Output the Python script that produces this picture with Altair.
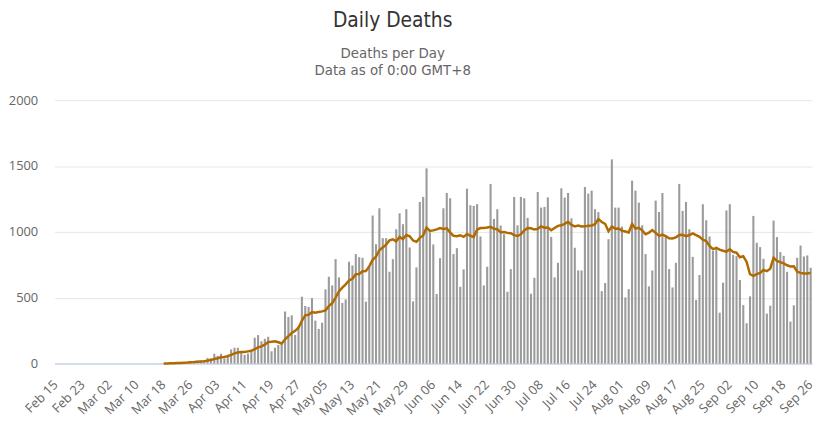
import altair as alt
import pandas as pd

start_date = "2020-02-15"

# Daily deaths, Feb 15 .. Sep 26 (one value per day)
deaths = [
    0, 0, 0, 0, 0, 0, 0, 0, 0, 0, 0, 0, 0, 0, 0, 0,          # Feb 15 - Mar 01
    0, 0, 0, 0, 0, 0, 0, 0, 0, 0, 0, 0, 0, 0, 0,             # Mar 02 - Mar 16
    1, 3, 2, 5, 7, 7, 9, 12, 11, 20, 15, 22, 22, 23, 42,     # Mar 17 - Mar 31
    40, 74, 58, 74, 38, 67, 107, 120, 120, 94, 64, 76, 94, 196, 216,
    170, 188, 203, 94, 120, 140, 150, 396, 353, 366, 216, 284, 508, 437, 430,  # Apr
    497, 326, 263, 310, 563, 659, 593, 793, 654, 460, 487, 773, 745, 831, 808,
    803, 470, 735, 1124, 906, 1179, 952, 952, 697, 793, 1020, 1141, 1058, 1172, 881, 472,  # May
    730, 1227, 1265, 1482, 997, 904, 528, 800, 1179, 1295, 1255, 831, 876, 583, 715,
    1328, 1202, 1197, 1210, 965, 593, 735, 1364, 1098, 1172, 1048, 982, 545, 717, 1265,  # Jun
    1050, 1265, 1255, 1106, 530, 651, 1303, 1184, 1189, 1262, 962, 654, 765, 1331, 1260,
    1295, 1103, 879, 707, 707, 1341, 1290, 1313, 1172, 1150, 550, 611, 944, 1550, 1184, 1184,  # Jul
    1040, 502, 565, 1389, 1313, 1222, 1050, 831, 586, 707, 1237, 1151, 1295, 965, 717,
    578, 765, 1364, 1159, 1227, 1020, 810, 482, 672, 1210, 1088, 965, 856, 879, 386, 614,  # Aug
    1162, 1210, 826, 816, 634, 444, 306, 510, 1121, 917, 884, 795, 379, 439, 1086,
    960, 846, 818, 697, 318, 442, 803, 896, 813, 821, 727,  # Sep
]

dates = pd.date_range(start_date, periods=len(deaths), freq="D")
day_labels = [d.strftime("%b %d") for d in dates]
tick_labels = day_labels[::8]
y_ticks = [0, 500, 1000, 1500, 2000]
avg_start = 32  # moving-average line begins Mar 18

df = pd.DataFrame({"idx": range(len(deaths)), "day": day_labels, "deaths": deaths})

FONT = "Open Sans"
TITLE_FONT = "Liberation Sans Narrow, DejaVu Sans Condensed, Open Sans"

x_enc = alt.X(
    "day:O",
    sort=None,
    scale=alt.Scale(domain=day_labels, paddingInner=0.38, paddingOuter=0.1),
    axis=alt.Axis(
        values=tick_labels,
        title=None,
        labelAngle=-45,
        labelAlign="right",
        labelBaseline="middle",
        labelPadding=19,
        labelFont=FONT,
        labelFontSize=13,
        labelColor="#666666",
        ticks=False,
        domainColor="#ccd6eb",
        domainWidth=1.5,
        grid=False,
    ),
)
y_scale = alt.Scale(domain=[0, 2000], nice=False)

bars = alt.Chart(df).mark_bar(color="#9b9b9b").encode(
    x=x_enc,
    y=alt.Y(
        "deaths:Q",
        scale=y_scale,
        axis=alt.Axis(
            values=y_ticks,
            format="d",
            title=None,
            labelFont=FONT,
            labelFontSize=13,
            labelColor="#666666",
            labelPadding=17,
            ticks=False,
            domain=False,
            grid=True,
            gridColor="#e6e6e6",
            gridWidth=1,
        ),
    ),
)

line = (
    alt.Chart(df)
    .transform_window(avg="mean(deaths)", frame=[-6, 0], sort=[{"field": "idx"}])
    .transform_filter(alt.datum.idx >= avg_start)
    .mark_line(color="#b06a00", strokeWidth=2.5)
    .encode(x=x_enc, y=alt.Y("avg:Q", scale=y_scale))
)

chart = (
    alt.layer(bars, line)
    .properties(
        width=765,
        height=266,
        autosize=alt.AutoSizeParams(type="none"),
        padding={"left": 47, "top": 91, "right": 4, "bottom": 60},
        title=alt.Title(
            "Daily Deaths",
            subtitle=["Deaths per Day", "Data as of 0:00 GMT+8"],
            anchor="middle",
            dx=-41,
            offset=16,
            font=TITLE_FONT,
            fontSize=21,
            fontWeight="normal",
            color="#333333",
            subtitleFont=TITLE_FONT,
            subtitleFontSize=15,
            subtitleColor="#666666",
            subtitleLineHeight=18,
            subtitlePadding=15,
        ),
    )
    .configure_view(stroke=None)
)

chart.save("out.html", embed_options={"renderer": "svg", "actions": False})
